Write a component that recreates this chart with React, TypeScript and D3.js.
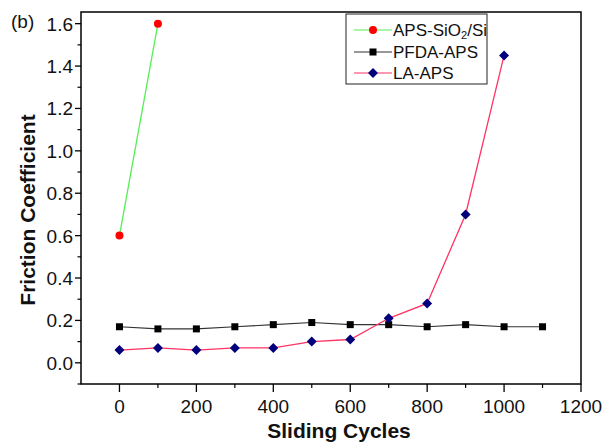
import React from "react";
import * as d3 from "d3";

const apsX = [0, 100];
const apsY = [0.6, 1.6];
const pfdaX = [0, 100, 200, 300, 400, 500, 600, 700, 800, 900, 1000, 1100];
const pfdaY = [0.17, 0.16, 0.16, 0.17, 0.18, 0.19, 0.18, 0.18, 0.17, 0.18, 0.17, 0.17];
const laX = [0, 100, 200, 300, 400, 500, 600, 700, 800, 900, 1000];
const laY = [0.06, 0.07, 0.06, 0.07, 0.07, 0.1, 0.11, 0.21, 0.28, 0.7, 1.45];
const xTicks = [0, 200, 400, 600, 800, 1000, 1200];
const xMinor = [100, 300, 500, 700, 900, 1100];
const yTicks = [0, 0.2, 0.4, 0.6, 0.8, 1.0, 1.2, 1.4, 1.6];
const yMinor = [-0.1, 0.1, 0.3, 0.5, 0.7, 0.9, 1.1, 1.3, 1.5];
const xDomain = [-100, 1200];
const yDomain = [-0.1, 1.655];

const FONT = "'Liberation Sans', Arial, Helvetica, sans-serif";

export default function App() {
  const L = 81, R = 581, T = 12, B = 384;
  const x = d3.scaleLinear().domain(xDomain).range([L, R]);
  const y = d3.scaleLinear().domain(yDomain).range([B, T]);
  const line = d3.line<[number, number]>().x(d => x(d[0])).y(d => y(d[1]));
  const zip = (a: number[], b: number[]) => a.map((v, i) => [v, b[i]] as [number, number]);
  const aps = zip(apsX, apsY);
  const pfda = zip(pfdaX, pfdaY);
  const la = zip(laX, laY);

  const square = (cx: number, cy: number, k: string) => (
    <rect key={k} x={cx - 3.5} y={cy - 3.5} width={7} height={7} fill="#000" />
  );
  const diamond = (cx: number, cy: number, k: string) => (
    <path key={k} d={`M${cx},${cy - 5}L${cx + 5},${cy}L${cx},${cy + 5}L${cx - 5},${cy}Z`} fill="#00007a" />
  );
  const dot = (cx: number, cy: number, k: string) => (
    <circle key={k} cx={cx} cy={cy} r={4} fill="#ff0000" />
  );

  const legendRows = [
    { label: "APS-SiO", sub: "2", rest: "/Si", color: "#55ee55", mk: dot },
    { label: "PFDA-APS", sub: "", rest: "", color: "#333333", mk: square },
    { label: "LA-APS", sub: "", rest: "", color: "#ff3366", mk: diamond },
  ];
  const rowY = [30, 52, 73];

  return (
    <svg width={611} height={446} style={{ position: "absolute", left: 0, top: 0, background: "#fff" }} fontFamily={FONT}>
      <rect x={0} y={0} width={611} height={446} fill="#fff" />
      {/* lines */}
      <path d={line(aps) || ""} fill="none" stroke="#55ee55" strokeWidth={1.3} />
      <path d={line(pfda) || ""} fill="none" stroke="#333333" strokeWidth={1.1} />
      <path d={line(la) || ""} fill="none" stroke="#ff3366" strokeWidth={1.3} />
      {pfda.map((d, i) => square(x(d[0]), y(d[1]), "p" + i))}
      {la.map((d, i) => diamond(x(d[0]), y(d[1]), "l" + i))}
      {aps.map((d, i) => dot(x(d[0]), y(d[1]), "a" + i))}
      {/* frame */}
      <rect x={L} y={T} width={R - L} height={B - T} fill="none" stroke="#000" strokeWidth={1.5} />
      {/* x ticks */}
      {xTicks.map(t => (
        <g key={"xt" + t}>
          <line x1={x(t)} x2={x(t)} y1={B} y2={B + 8} stroke="#000" strokeWidth={1.3} />
          <text x={x(t)} y={413} fontSize={19} textAnchor="middle" fill="#111">{t}</text>
        </g>
      ))}
      {xMinor.map(t => (
        <line key={"xm" + t} x1={x(t)} x2={x(t)} y1={B} y2={B + 4} stroke="#000" strokeWidth={1.2} />
      ))}
      {yTicks.map(t => (
        <g key={"yt" + t}>
          <line x1={L - 6} x2={L} y1={y(t)} y2={y(t)} stroke="#000" strokeWidth={1.3} />
          <text x={73} y={y(t) + 7} fontSize={19} textAnchor="end" fill="#111">{t.toFixed(1)}</text>
        </g>
      ))}
      {yMinor.map(t => (
        <line key={"ym" + t} x1={L - 3.5} x2={L} y1={y(t)} y2={y(t)} stroke="#000" strokeWidth={1.2} />
      ))}
      {/* axis titles */}
      <text x={339} y={438} fontSize={21} fontWeight="bold" textAnchor="middle" fill="#111">Sliding Cycles</text>
      <text transform={`translate(35,210) rotate(-90)`} fontSize={21} fontWeight="bold" textAnchor="middle" fill="#111">Friction Coefficient</text>
      <text x={11} y={28} fontSize={19} fill="#111">(b)</text>
      {/* legend */}
      <rect x={346} y={14} width={141} height={70} fill="#fff" stroke="#222" strokeWidth={1} />
      {legendRows.map((r, i) => (
        <g key={"lg" + i}>
          <line x1={354} x2={392} y1={rowY[i]} y2={rowY[i]} stroke={r.color} strokeWidth={1.2} />
          {r.mk(373, rowY[i], "lm" + i)}
          <text x={393} y={rowY[i] + 6} fontSize={17} fill="#111">
            {r.label}
            {r.sub ? <tspan fontSize={11} dy={3}>{r.sub}</tspan> : null}
            {r.rest ? <tspan dy={-3}>{r.rest}</tspan> : null}
          </text>
        </g>
      ))}
    </svg>
  );
}
